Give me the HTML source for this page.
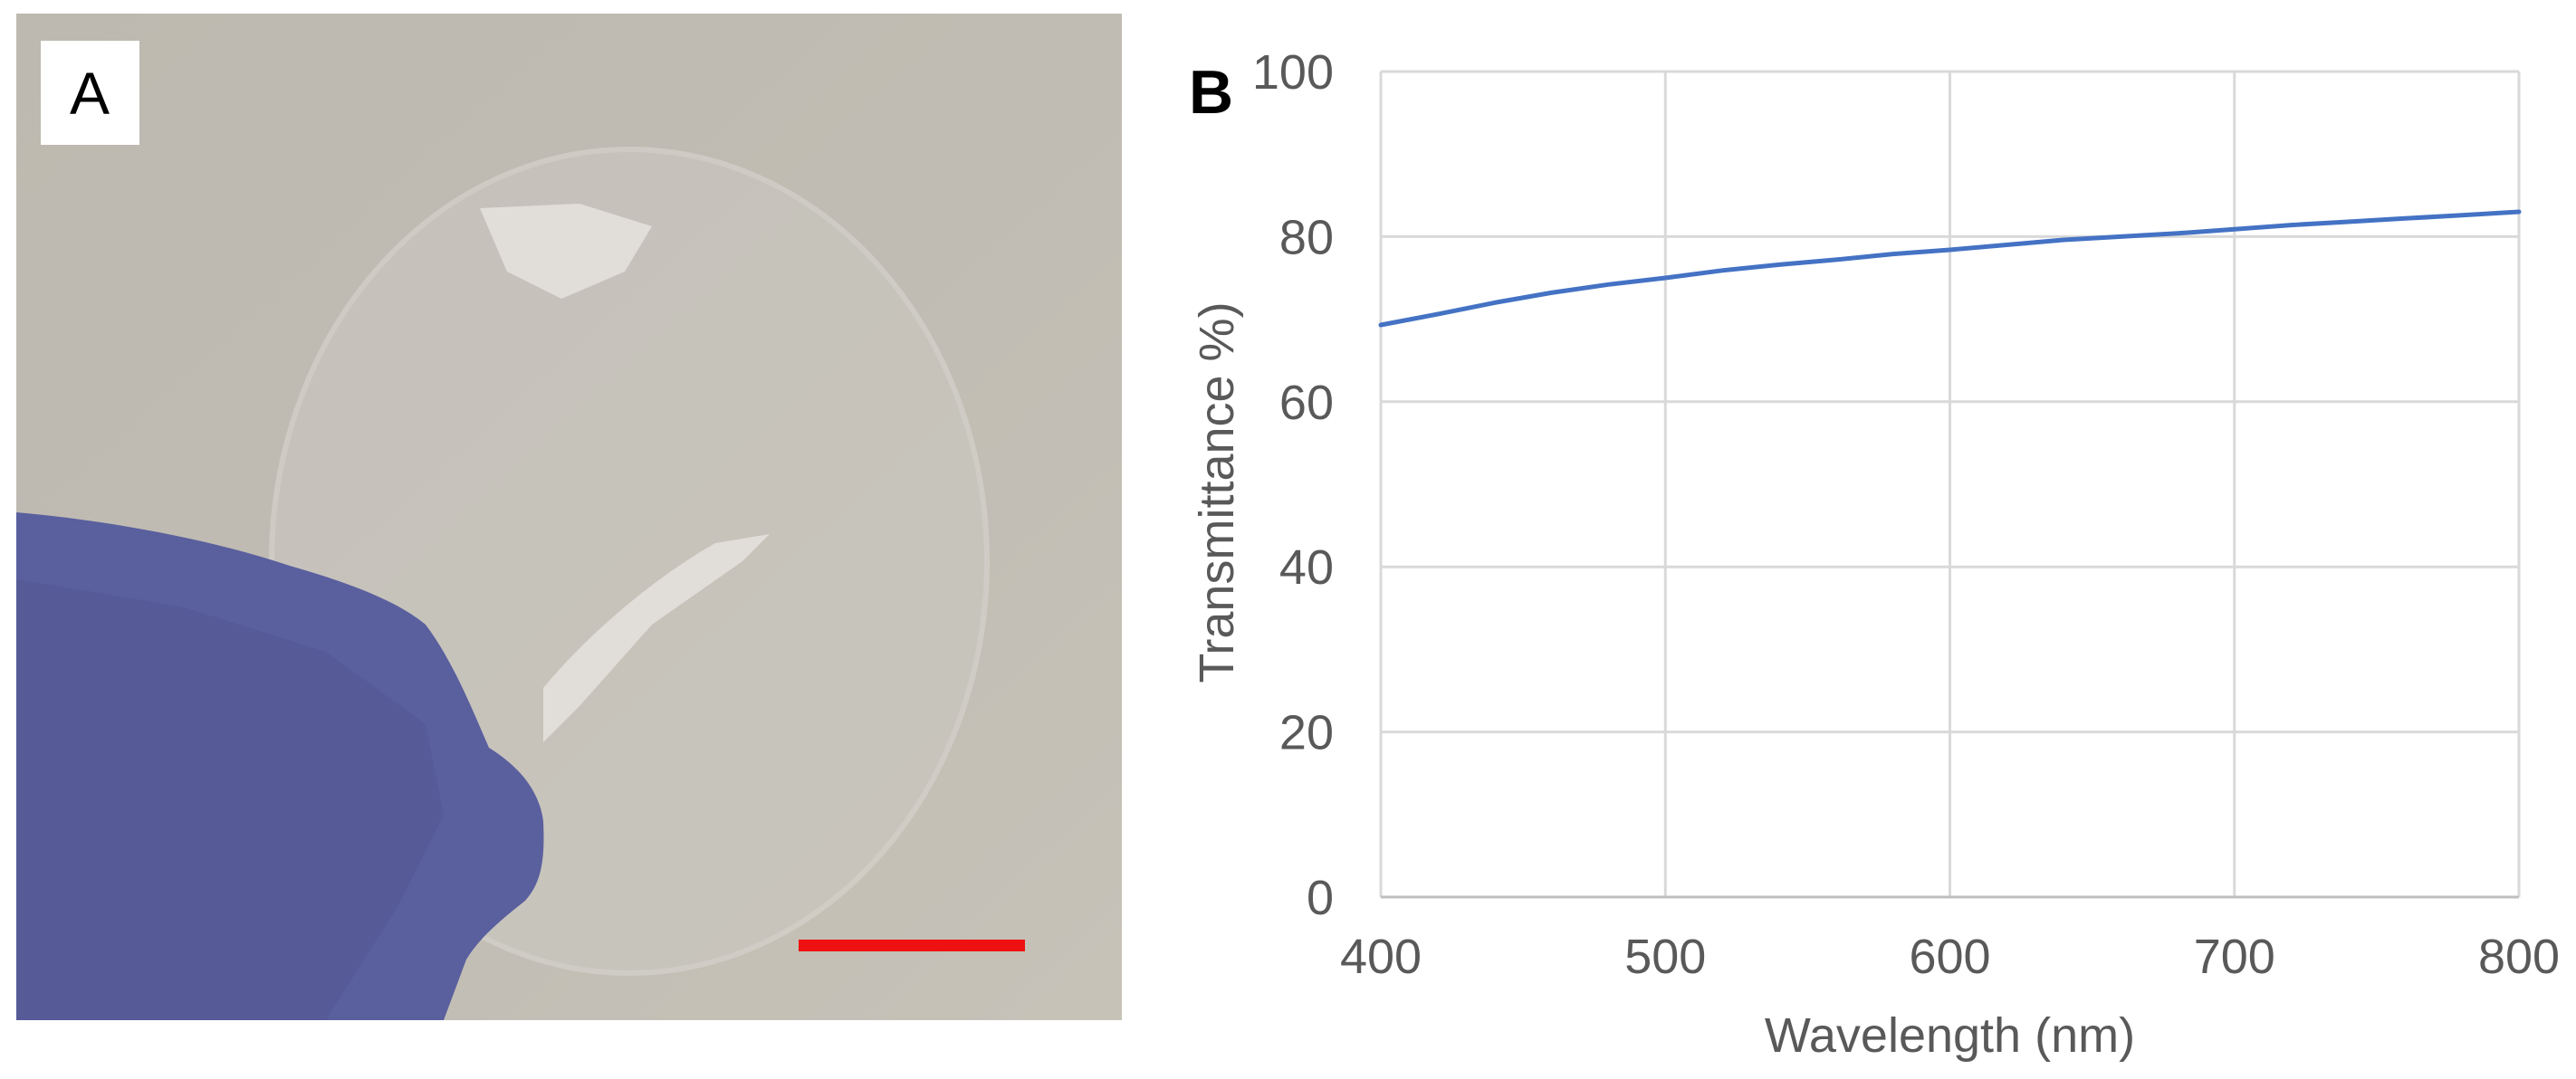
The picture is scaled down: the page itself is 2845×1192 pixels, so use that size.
<!DOCTYPE html>
<html><head><meta charset="utf-8"><style>
html,body{margin:0;padding:0;background:#fff;}
#wrap{position:relative;width:2845px;height:1192px;overflow:hidden;background:#fff;}
svg text{font-family:"Liberation Sans",sans-serif;}
</style></head><body>
<div id="wrap">
<svg width="2845" height="1192" viewBox="0 0 2845 1192" xmlns="http://www.w3.org/2000/svg">
  <defs>
    <linearGradient id="bg" x1="0" y1="0" x2="1" y2="1">
      <stop offset="0" stop-color="#bdb9b0"/><stop offset="0.5" stop-color="#c0bcb3"/><stop offset="1" stop-color="#c6c2b8"/>
    </linearGradient>
    <clipPath id="photoclip"><rect x="18" y="15" width="1221" height="1112"/></clipPath>
  </defs>
  <g clip-path="url(#photoclip)">
    <rect x="18" y="15" width="1221" height="1112" fill="url(#bg)"/>
    <ellipse cx="695" cy="620" rx="395" ry="455" fill="#cbc8c1" stroke="#d8d6d0" stroke-width="6" opacity="0.6"/>
    <path d="M530,230 L640,225 L720,250 L690,300 L620,330 L560,300 Z" fill="#eceae5" opacity="0.7"/>
    <path d="M600,760 C650,700 720,640 790,600 L850,590 L820,620 L720,690 L640,780 L600,820 Z" fill="#eceae5" opacity="0.7"/>
    <path d="M18,566 C120,575 230,595 320,625 C390,645 440,665 470,690 C500,730 520,780 540,826 C570,845 595,870 600,907 C602,950 598,975 580,995 C555,1015 530,1035 515,1060 L490,1127 L18,1127 Z" fill="#5a5f9e"/>
    <path d="M18,640 L200,670 L360,720 L470,800 L490,900 L440,1000 L360,1127 L18,1127 Z" fill="#52568f" opacity="0.5"/>
    <rect x="45" y="45" width="109" height="115" fill="#fff"/>
    <text x="99" y="126" text-anchor="middle" font-size="66" fill="#000">A</text>
    <rect x="882" y="1038" width="250" height="13" fill="#ee1111"/>
  </g>
  <text x="1313" y="125" font-size="68" font-weight="bold" fill="#000">B</text>
  <g id="chart"></g>
</svg>
</div>
<script>
const wavelengths=[400,420,440,460,480,500,520,540,560,580,600,620,640,660,680,700,720,740,760,780,800];
const transmittance=[69.3,70.6,72.0,73.2,74.2,75.0,75.9,76.6,77.2,77.9,78.4,79.0,79.6,80.0,80.4,80.9,81.4,81.8,82.2,82.6,83.0];
const xTicks=[400,500,600,700,800];
const yTicks=[0,20,40,60,80,100];
const xAxisTitle="Wavelength (nm)";
const yAxisTitle="Transmittance %)";

const NS="http://www.w3.org/2000/svg";
const g=document.getElementById('chart');
const L=1525,R=2782,T=79,B=991;
function sx(v){return L+(v-400)/(800-400)*(R-L);}
function sy(v){return B-(v-0)/(100-0)*(B-T);}
function mk(tag,attrs,parent){const e=document.createElementNS(NS,tag);for(const k in attrs)e.setAttribute(k,attrs[k]);(parent||g).appendChild(e);return e;}

yTicks.forEach(t=>{
  const ln=mk('line',{x1:L,x2:R,y1:sy(t),y2:sy(t),stroke:'#d9d9d9','stroke-width':3});
  
  
  const tx=mk('text',{x:1473,y:sy(t)+19,'text-anchor':'end','font-size':54,fill:'#595959'});
  tx.textContent=t;
  
  
});
xTicks.forEach(t=>{
  const ln=mk('line',{x1:sx(t),x2:sx(t),y1:T,y2:B,stroke:'#d9d9d9','stroke-width':3});
  
  
  const tx=mk('text',{x:sx(t),y:1075,'text-anchor':'middle','font-size':54,fill:'#595959'});
  tx.textContent=t;
  
  
});
const ax=mk('line',{x1:L,x2:R,y1:B,y2:B,stroke:'#bfbfbf','stroke-width':3});



const d=wavelengths.map((w,i)=>(i?'L':'M')+sx(w).toFixed(1)+','+sy(transmittance[i]).toFixed(1)).join(' ');
const path=mk('path',{d:d,fill:'none',stroke:'#4472c4','stroke-width':5,'stroke-linejoin':'round','stroke-linecap':'round'});



const xt=mk('text',{x:(L+R)/2,y:1162,'text-anchor':'middle','font-size':54,fill:'#595959'});
xt.textContent=xAxisTitle;


const yt=mk('text',{x:0,y:0,'text-anchor':'middle','font-size':54,fill:'#595959',transform:'translate(1362,544) rotate(-90)'});
yt.textContent=yAxisTitle;


</script>
</body></html>
